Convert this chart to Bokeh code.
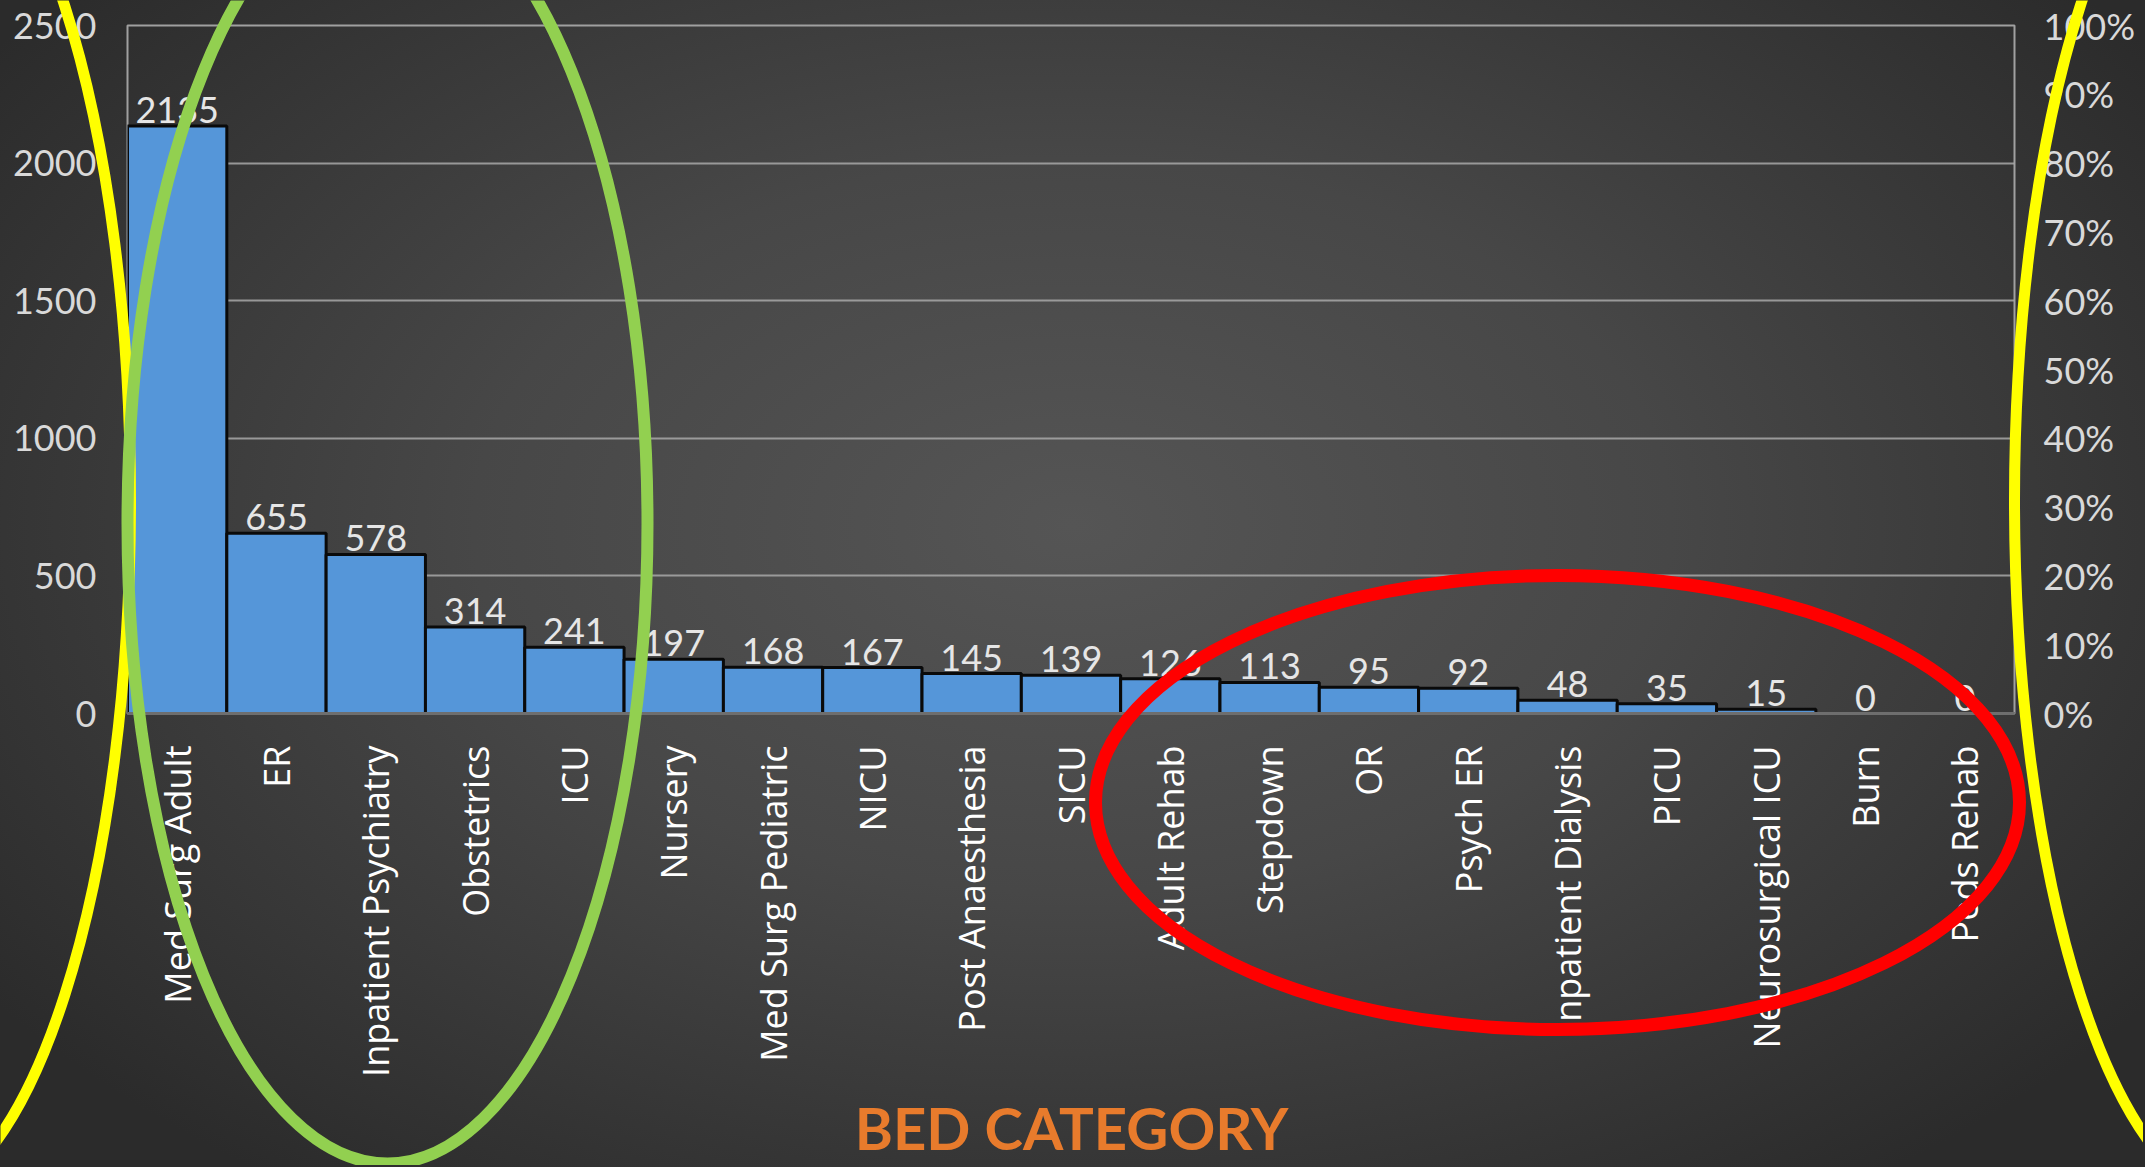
import math
from bokeh.plotting import figure
from bokeh.models import (FactorRange, Range1d, LinearAxis, FixedTicker,
                          NumeralTickFormatter, ColumnDataSource)
from bokeh.core.properties import value
from bokeh.embed import file_html
from bokeh.resources import INLINE

# ---------------- data ----------------
categories = ["Med Surg Adult", "ER", "Inpatient Psychiatry", "Obstetrics", "ICU",
              "Nursery", "Med Surg Pediatric", "NICU", "Post Anaesthesia", "SICU",
              "Adult Rehab", "Stepdown", "OR", "Psych ER", "Inpatient Dialysis",
              "PICU", "Neurosurgical ICU", "Burn", "Peds Rehab"]
beds = [2135, 655, 578, 314, 241, 197, 168, 167, 145, 139,
        126, 113, 95, 92, 48, 35, 15, 0, 0]
count_ticks = [0, 500, 1000, 1500, 2000, 2500]
pct_ticks = [0.0, 0.1, 0.2, 0.3, 0.4, 0.5, 0.6, 0.7, 0.8, 0.9, 1.0]
axis_title = "BED CATEGORY"

NUM_FONT = "Lato"
W, H = 2143, 1165
ML, MR, MT, MB = 127, W - 2014, 25, H - 713

src = ColumnDataSource(dict(cat=categories, beds=beds, lbl=[str(b) for b in beds]))

p = figure(width=W, height=H, x_range=FactorRange(factors=categories, range_padding=0),
           y_range=Range1d(0, 2500), output_backend="svg", toolbar_location=None,
           min_border_left=ML, min_border_right=MR, min_border_top=MT, min_border_bottom=MB)
p.background_fill_color = None
p.border_fill_color = None
p.outline_line_color = "#a0a0a0"
p.outline_line_width = 2

p.xgrid.grid_line_color = None
p.ygrid.grid_line_color = "#a8a8a8"
p.ygrid.grid_line_width = 2
p.ygrid.grid_line_alpha = 0.85

p.vbar(x="cat", top="beds", width=1.0, source=src, fill_color="#5596d9",
       line_color="#0a0a0a", line_width=3)

p.text(x="cat", y="beds", text="lbl", source=src, text_align="center",
       text_baseline="bottom", y_offset=-3, text_font=value(NUM_FONT),
       text_font_size=value("36px"), text_color="#e6e6e6")

# left axis
ya = p.yaxis[0]
ya.ticker = FixedTicker(ticks=count_ticks)
ya.major_label_text_font = NUM_FONT
ya.major_label_text_font_size = "36px"
ya.major_label_text_color = "#d9d9d9"
ya.major_tick_line_color = None
ya.minor_tick_line_color = None
ya.axis_line_color = None
ya.major_label_standoff = 25

# right axis
p.extra_y_ranges = {"pct": Range1d(0, 1)}
ra = LinearAxis(y_range_name="pct", ticker=FixedTicker(ticks=pct_ticks),
                formatter=NumeralTickFormatter(format="0%"))
ra.major_label_text_font = NUM_FONT
ra.major_label_text_font_size = "36px"
ra.major_label_text_color = "#d9d9d9"
ra.major_tick_line_color = None
ra.minor_tick_line_color = None
ra.axis_line_color = None
ra.major_label_standoff = 23
p.add_layout(ra, "right")

# bottom axis
xa = p.xaxis[0]
xa.major_label_orientation = math.pi / 2
xa.major_label_text_font = "Open Sans"
xa.major_label_text_font_size = "36px"
xa.major_label_text_color = "#ffffff"
xa.major_tick_line_color = None
xa.axis_line_color = "#6e6e6e"
xa.axis_line_width = 3
xa.major_label_standoff = 26

# ---------------- transparent overlay: hand-drawn ellipses + title ----------------
ov = figure(width=W, height=H, x_range=Range1d(0, W), y_range=Range1d(H, 0),
            x_axis_type=None, y_axis_type=None, output_backend="svg",
            toolbar_location=None, min_border=0,
            min_border_left=0, min_border_right=0, min_border_top=0, min_border_bottom=0)
ov.background_fill_color = None
ov.border_fill_color = None
ov.outline_line_color = None
ov.grid.visible = False
ov.styles = {"position": "absolute", "left": "0px", "top": "0px", "pointer-events": "none"}

ov.text(x=[1071], y=[1127], text=[axis_title], text_align="center", text_baseline="middle",
        text_font=value(NUM_FONT), text_font_style="bold", text_font_size=value("58px"),
        text_color="#e87b2c")

ov.ellipse(x=[-95, 2239], y=[500, 500], width=[450, 450], height=[1400, 1400],
           fill_color=None, line_color="#ffff00", line_width=11)
ov.ellipse(x=[387], y=[523], width=[520], height=[1280],
           fill_color=None, line_color="#92d050", line_width=12)
ov.ellipse(x=[1557], y=[802], width=[924], height=[454],
           fill_color=None, line_color="#ff0000", line_width=13)

html = file_html([p, ov], INLINE)
style = ("<style>html{height:100%;background:radial-gradient(ellipse 62% 70% at 50% 45%, "
         "#555555 0%, #474747 45%, #2b2b2b 100%);}body{background:transparent;overflow:hidden;}</style>")
html = html.replace("</head>", style + "</head>", 1)
open("out.html", "w").write(html)
